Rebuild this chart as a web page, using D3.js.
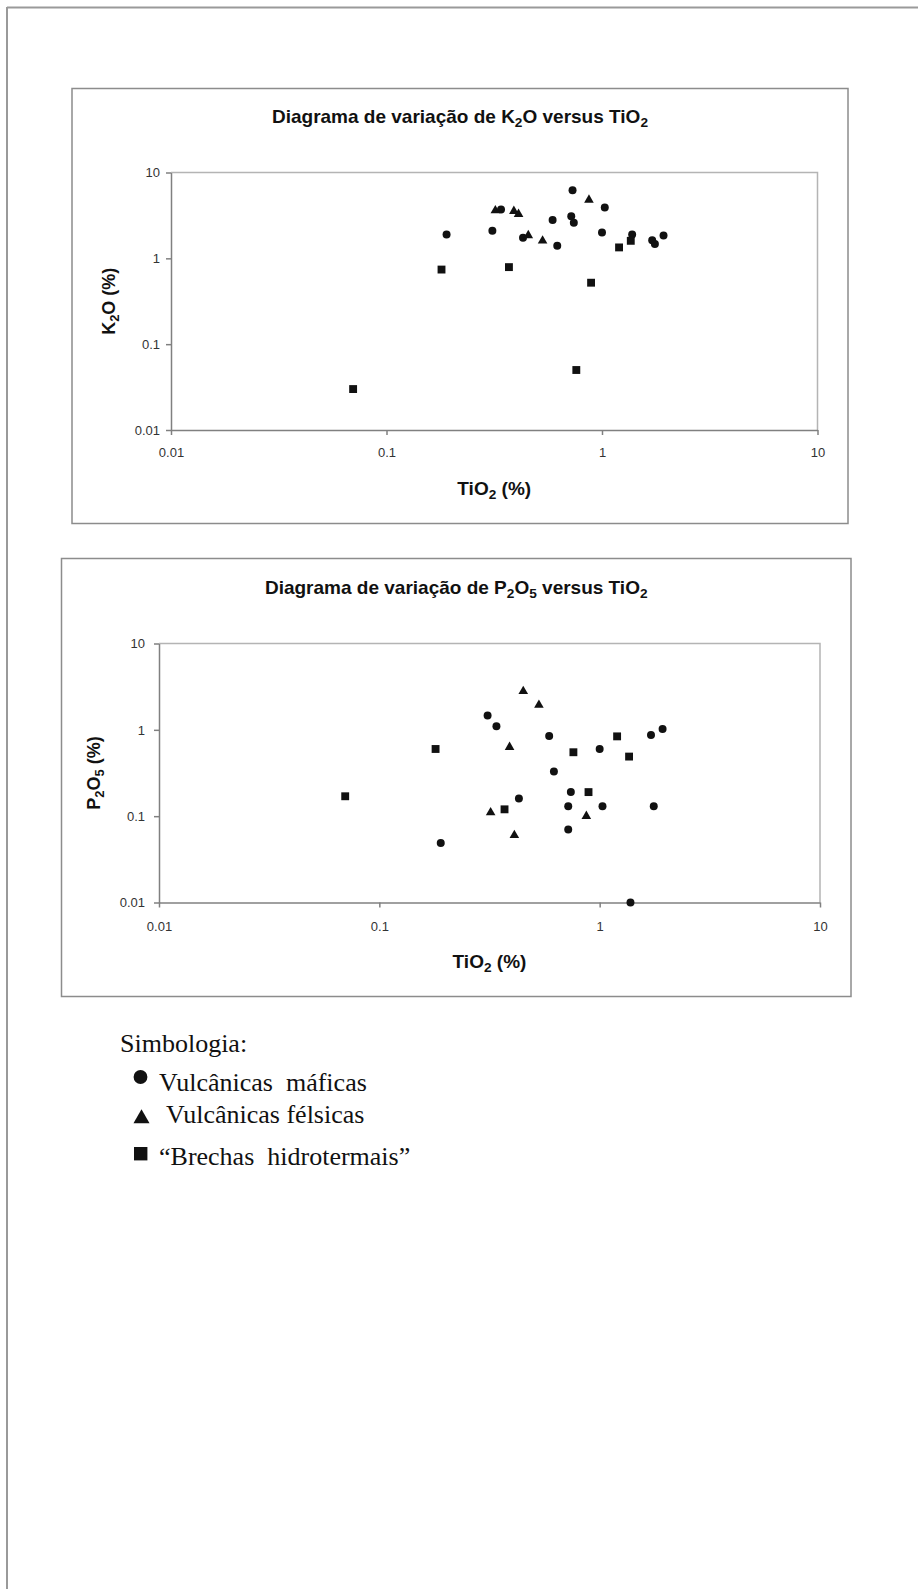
<!DOCTYPE html>
<html lang="pt">
<head>
    <meta charset="utf-8"/>
    <title>Diagramas de variação</title>
    <script src="https://d3js.org/d3.v7.min.js"></script>
    <style>
        body {
            margin: 0;
            background: #fff;
        }

        svg {
            display: block;
        }

        .axis text {
            font-family: "Liberation Sans", Arial, sans-serif;
            font-size: 13px;
            fill: #333;
        }

        .axis path, .axis line {
            stroke: #808080;
            stroke-width: 1.5;
        }
    </style>
</head>
<body>
<svg></svg>
<script>
    // tick values shared by both log axes
    const logTicks = [0.01, 0.1, 1, 10];
    const logTickLabels = ["0.01", "0.1", "1", "10"];

    // K2O versus TiO2
    const k2oMaficTi = [0.19, 0.31, 0.34, 0.43, 0.59, 0.62, 0.73, 0.72, 0.74, 1.03, 1.0, 1.38, 1.71, 1.76, 1.93];
    const k2oMafic = [1.9, 2.1, 3.7, 1.74, 2.8, 1.4, 6.2, 3.1, 2.6, 3.9, 2.0, 1.9, 1.62, 1.47, 1.85];
    const k2oFelsicTi = [0.32, 0.39, 0.41, 0.455, 0.53, 0.87];
    const k2oFelsic = [3.6, 3.55, 3.27, 1.85, 1.6, 4.8];
    const k2oBrechaTi = [0.07, 0.18, 0.37, 0.76, 0.89, 1.2, 1.36];
    const k2oBrecha = [0.03, 0.74, 0.79, 0.05, 0.52, 1.34, 1.6];

    // P2O5 versus TiO2
    const p2o5MaficTi = [0.19, 0.31, 0.34, 0.43, 0.59, 0.62, 0.72, 0.72, 0.74, 1.0, 1.03, 1.38, 1.71, 1.93, 1.76];
    const p2o5Mafic = [0.049, 1.47, 1.1, 0.16, 0.85, 0.33, 0.13, 0.07, 0.19, 0.6, 0.13, 0.01, 0.87, 1.02, 0.13];
    const p2o5FelsicTi = [0.32, 0.39, 0.41, 0.45, 0.53, 0.87];
    const p2o5Felsic = [0.11, 0.63, 0.06, 2.8, 1.94, 0.10];
    const p2o5BrechaTi = [0.07, 0.18, 0.37, 0.76, 0.89, 1.2, 1.36];
    const p2o5Brecha = [0.17, 0.6, 0.12, 0.55, 0.19, 0.84, 0.49];

    const legendTitle = "Simbologia:";
    const legendLabels = ["Vulcânicas \u00a0máficas", "Vulcânicas félsicas", "“Brechas \u00a0hidrotermais”"];

    const W = 918, H = 1589;
    const svg = d3.select("svg").attr("width", W).attr("height", H);
    const sans = '"Liberation Sans", Arial, sans-serif';
    const serif = '"Liberation Serif", "Times New Roman", serif';

    const shapes = [d3.symbolCircle, d3.symbolTriangle, d3.symbolSquare];
    const shapeSizes = [50, 40, 62];

    // page frame (only top and left edge visible)
    svg.append("line").attr("x1", 7).attr("x2", W).attr("y1", 7.5).attr("y2", 7.5)
        .attr("stroke", "#9a9a9a").attr("stroke-width", 2);
    svg.append("line").attr("x1", 7).attr("x2", 7).attr("y1", 7).attr("y2", H)
        .attr("stroke", "#9a9a9a").attr("stroke-width", 2);

    // text with subscripts: parts = [[str, isSub], ...]
    function richText(g, parts, size) {
        const t = g.append("text")
            .attr("font-family", sans)
            .attr("font-weight", "bold")
            .attr("font-size", size)
            .attr("fill", "#111");
        let down = 0;
        parts.forEach(p => {
            const s = t.append("tspan").text(p[0]);
            const want = p[1] ? size * 0.2 : 0;
            if (want !== down) s.attr("dy", want - down);
            if (p[1]) s.attr("font-size", size * 0.72);
            down = want;
        });
        return t;
    }

    function drawChart(c) {
        const g = svg.append("g");

        g.append("rect")
            .attr("x", c.box[0]).attr("y", c.box[1])
            .attr("width", c.box[2] - c.box[0]).attr("height", c.box[3] - c.box[1])
            .attr("fill", "none").attr("stroke", "#8c8c8c").attr("stroke-width", 1.5);

        const x = d3.scaleLog().domain([0.01, 10]).range([c.plot[0], c.plot[2]]);
        const y = d3.scaleLog().domain([0.01, 10]).range([c.plot[3], c.plot[1]]);

        // light frame on top and right of plot area
        g.append("path")
            .attr("d", `M${c.plot[0]},${c.plot[1]}H${c.plot[2]}V${c.plot[3]}`)
            .attr("fill", "none").attr("stroke", "#b4b4b4").attr("stroke-width", 1.5);

        g.append("g").attr("class", "axis")
            .attr("transform", `translate(${c.plot[0]},0)`)
            .call(d3.axisLeft(y).tickValues(logTicks).tickFormat((d, i) => logTickLabels[i])
                .tickSize(5).tickSizeOuter(0).tickPadding(c.yPad));

        g.append("g").attr("class", "axis")
            .attr("transform", `translate(0,${c.plot[3]})`)
            .call(d3.axisBottom(x).tickValues(logTicks).tickFormat((d, i) => logTickLabels[i])
                .tickSize(5).tickSizeOuter(0).tickPadding(c.xPad));

        richText(g, c.title, 19)
            .attr("x", (c.box[0] + c.box[2]) / 2).attr("y", c.titleY)
            .attr("text-anchor", "middle");

        richText(g, c.xLabel, 19)
            .attr("x", (c.plot[0] + c.plot[2]) / 2).attr("y", c.xLabelY)
            .attr("text-anchor", "middle");

        richText(g, c.yLabel, 18)
            .attr("text-anchor", "middle")
            .attr("transform", `translate(${c.yLabelX},${(c.plot[1] + c.plot[3]) / 2}) rotate(-90)`);

        c.series.forEach((s, k) => {
            g.append("g").selectAll("path")
                .data(s[0].map((v, i) => [v, s[1][i]]))
                .join("path")
                .attr("d", d3.symbol().type(shapes[k]).size(shapeSizes[k]))
                .attr("transform", d => `translate(${x(d[0])},${y(d[1])})`)
                .attr("fill", "#111");
        });
    }

    drawChart({
        box: [72, 88.5, 848, 523.5],
        plot: [171, 172.5, 817.5, 430],
        titleY: 123,
        title: [["Diagrama de variação de K"], ["2", true], ["O versus TiO"], ["2", true]],
        xLabel: [["TiO"], ["2", true], [" (%)"]],
        xLabelY: 495,
        yLabel: [["K"], ["2", true], ["O (%)"]],
        yLabelX: 115,
        yPad: 6,
        xPad: 13,
        series: [[k2oMaficTi, k2oMafic], [k2oFelsicTi, k2oFelsic], [k2oBrechaTi, k2oBrecha]]
    });

    drawChart({
        box: [61.5, 558.5, 851, 996.5],
        plot: [159, 643.5, 820, 902.5],
        titleY: 594,
        title: [["Diagrama de variação de P"], ["2", true], ["O"], ["5", true], [" versus TiO"], ["2", true]],
        xLabel: [["TiO"], ["2", true], [" (%)"]],
        xLabelY: 968,
        yLabel: [["P"], ["2", true], ["O"], ["5", true], [" (%)"]],
        yLabelX: 100,
        yPad: 9,
        xPad: 14,
        series: [[p2o5MaficTi, p2o5Mafic], [p2o5FelsicTi, p2o5Felsic], [p2o5BrechaTi, p2o5Brecha]]
    });

    // legend
    const legend = svg.append("g")
        .attr("font-family", serif)
        .attr("font-size", 26)
        .attr("fill", "#111");

    legend.append("text").attr("x", 120).attr("y", 1052).text(legendTitle);

    const legendRows = [
        {sx: 140.5, sy: 1077, tx: 159, ty: 1091, size: 150},
        {sx: 141.5, sy: 1118.5, tx: 166, ty: 1123, size: 112},
        {sx: 140.7, sy: 1153.7, tx: 159, ty: 1165, size: 180}
    ];

    legendRows.forEach((r, i) => {
        legend.append("path")
            .attr("d", d3.symbol().type(shapes[i]).size(r.size))
            .attr("transform", `translate(${r.sx},${r.sy})`);
        legend.append("text").attr("x", r.tx).attr("y", r.ty).text(legendLabels[i]);
    });
</script>
</body>
</html>
